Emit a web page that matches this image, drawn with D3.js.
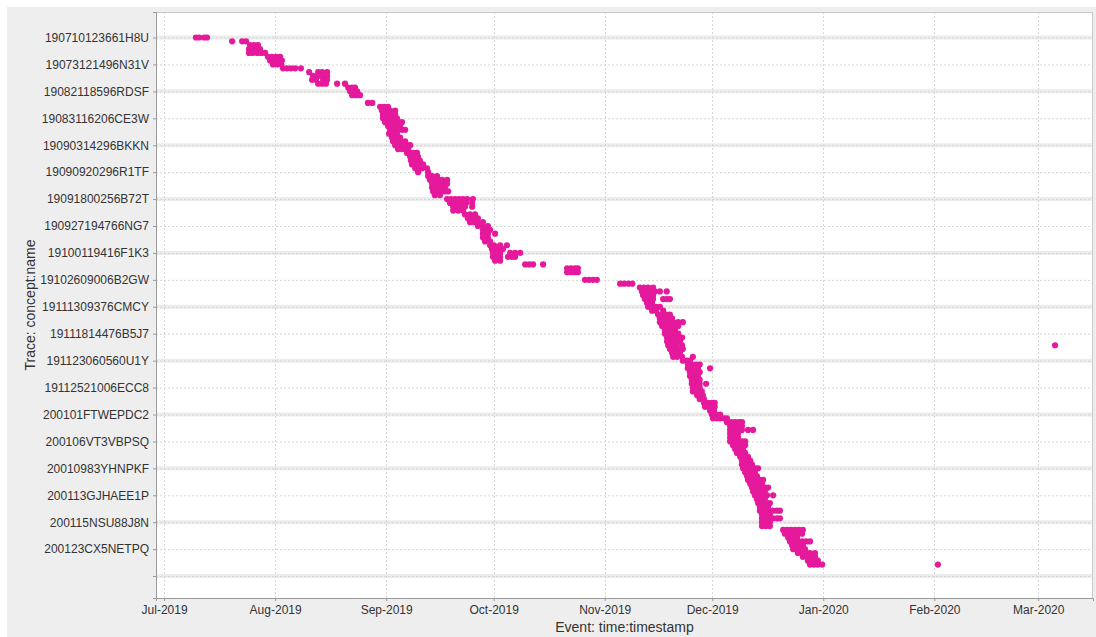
<!DOCTYPE html>
<html>
<head>
<meta charset="utf-8">
<script src="https://cdn.jsdelivr.net/npm/d3@7/dist/d3.min.js"></script>
<style>
  html, body { margin: 0; padding: 0; background: #ffffff; }
  svg { display: block; }
  text { font-family: "Liberation Sans", Arial, sans-serif; fill: #333333; }
</style>
</head>
<body>
<svg id="chart" width="1096" height="637"></svg>
<script>
// ---- data ----
// labelled traces (every 7th trace is labelled on the axis)
const traceLabels = [
  "190710123661H8U", "19073121496N31V", "19082118596RDSF", "19083116206CE3W",
  "19090314296BKKN", "19090920296R1TF", "19091800256B72T", "190927194766NG7",
  "19100119416F1K3", "19102609006B2GW", "19111309376CMCY", "19111814476B5J7",
  "191123060560U1Y", "19112521006ECC8", "200101FTWEPDC2", "200106VT3VBPSQ",
  "20010983YHNPKF", "200113GJHAEE1P", "200115NSU88J8N", "200123CX5NETPQ"
];
const traceStep = 7;
const tickCount = 21;             // 20 labelled + 1 empty tick at the bottom
const baseDate = "2019-07-01";    // event days are offsets from this date
const xStart = "2019-06-28T18:00:00Z";
const xEnd = "2020-03-16T07:00:00Z";
const yDomain = [-6.63, 145.7];
const xTitle = "Event: time:timestamp";
const yTitle = "Trace: concept:name";

// [trace index, event day offsets...]
const traceEvents = [
  [0, 8.9, 9.8, 11.2, 12.0],
  [1, 19.0, 21.8, 22.9],
  [2, 24.0, 25.1, 26.2],
  [3, 23.7, 24.6, 25.7, 26.8],
  [4, 23.7, 24.8, 26.0, 27.1, 28.2],
  [5, 29.0, 30.1, 31.3, 32.4],
  [6, 29.6, 30.7, 31.8, 32.9],
  [7, 30.4, 31.5, 32.7],
  [8, 33.2, 34.3, 35.4, 36.6, 38.2],
  [9, 40.5, 43.0, 44.1, 45.5],
  [10, 41.6, 43.0, 44.1, 45.5],
  [11, 41.3, 42.4, 44.4, 45.5],
  [12, 43.0, 44.1, 45.2, 48.3, 50.5],
  [13, 51.4, 52.5, 53.3],
  [14, 51.9, 53.0, 53.9],
  [15, 52.5, 53.6, 54.7],
  [17, 56.9, 58.1],
  [18, 60.3, 61.4, 62.5],
  [19, 60.8, 62.0, 63.1, 64.5],
  [20, 61.1, 62.2, 63.4, 64.5],
  [21, 61.1, 62.5, 63.6, 65.0],
  [22, 61.7, 62.8, 64.2, 65.3, 66.4],
  [23, 62.5, 63.6, 64.8, 65.9],
  [24, 63.1, 64.2, 65.3, 66.4, 67.3],
  [25, 62.8, 63.9, 65.0],
  [26, 63.6, 64.8, 65.9],
  [27, 63.9, 65.0, 66.1, 67.3],
  [28, 64.5, 65.6, 66.7, 67.8, 68.7],
  [29, 65.3, 66.4, 67.3, 68.1],
  [30, 67.8, 68.9, 69.8, 70.6],
  [31, 68.7, 69.8, 70.9],
  [32, 68.9, 70.1, 71.4],
  [33, 69.2, 70.1, 70.9, 72.3],
  [34, 70.1, 70.9, 72.0, 73.4],
  [35, 70.9, 73.7],
  [36, 73.7, 74.8, 76.2],
  [37, 74.2, 75.3, 76.5, 77.6, 79.0],
  [38, 74.8, 75.9, 77.0, 78.1, 79.0],
  [39, 74.8, 75.9, 77.0, 78.4],
  [40, 75.1, 76.2, 77.3, 78.4, 79.3],
  [41, 75.6, 77.0],
  [42, 79.0, 80.1, 81.2, 82.3, 83.4, 84.6, 86.2],
  [43, 79.8, 80.9, 82.1, 83.2, 84.3, 86.0],
  [44, 80.7, 81.8, 82.9, 84.0, 86.0],
  [45, 80.7, 82.1, 83.4],
  [46, 84.0, 85.4, 86.8],
  [47, 84.8, 86.2, 87.6],
  [48, 85.4, 86.5, 87.6, 89.0],
  [49, 87.6, 89.0, 90.4],
  [50, 89.0, 90.1, 91.0],
  [51, 89.0, 90.4, 92.4],
  [52, 89.0, 90.4],
  [53, 89.6, 91.0],
  [54, 91.0, 92.1, 93.8, 95.7],
  [55, 91.5, 92.7, 93.8, 94.6],
  [56, 91.8, 92.9, 93.8, 96.6, 98.0, 99.4],
  [57, 91.8, 92.9, 93.8, 96.0, 97.1, 98.0],
  [58, 92.4, 93.8],
  [59, 100.8, 101.9, 103.0, 105.8],
  [60, 112.5, 113.6, 114.7, 115.5],
  [61, 112.5, 113.6, 114.7, 115.5],
  [63, 117.5, 118.6, 119.7, 120.8],
  [64, 127.3, 128.4, 129.6, 130.7],
  [65, 132.8, 133.9, 135.1, 136.5],
  [66, 133.4, 134.5, 135.6, 137.0, 138.4, 140.3],
  [67, 133.7, 135.1, 136.5],
  [68, 134.2, 135.4, 136.5, 139.3, 140.3, 141.2],
  [69, 134.8, 136.2],
  [70, 135.1, 136.2, 137.3, 138.4],
  [71, 136.2, 137.3, 139.3],
  [72, 137.9, 139.0, 140.1, 141.2],
  [73, 138.4, 139.5, 140.7, 141.8],
  [74, 138.4, 139.5, 140.7, 142.1, 143.5, 144.8],
  [75, 139.0, 140.1, 141.2, 142.3, 143.5],
  [76, 139.8, 141.2, 142.6],
  [77, 139.8, 140.9, 142.1, 143.5],
  [78, 140.4, 141.5, 142.6, 143.7, 144.6],
  [79, 140.4, 141.5, 142.9, 144.0],
  [80, 140.7, 141.8, 142.9, 144.6, 248.7],
  [81, 141.2, 142.3, 143.5, 144.8],
  [82, 141.8, 142.9, 144.0],
  [83, 142.1, 143.2, 144.6, 147.6],
  [84, 144.8, 146.0, 146.8],
  [85, 146.2, 147.3, 148.4, 149.5],
  [86, 146.2, 147.3, 149.0, 152.4],
  [87, 146.8, 148.2, 149.5],
  [88, 146.8, 147.9, 149.0],
  [89, 147.3, 148.4, 149.5],
  [90, 147.3, 148.4, 149.5, 151.3],
  [91, 147.6, 148.8, 149.5],
  [92, 147.6, 148.8, 150.1],
  [93, 148.8, 149.5, 150.4],
  [94, 149.5, 150.7],
  [95, 150.7, 151.8, 152.9, 153.7],
  [96, 151.0, 152.1, 153.7],
  [97, 152.4, 153.5],
  [98, 152.9, 154.1, 155.2],
  [99, 153.2, 154.3, 155.2, 156.3, 157.1],
  [100, 157.1, 158.3, 159.4, 160.5, 161.3],
  [101, 158.0, 159.1, 160.2, 161.3],
  [102, 158.0, 159.1, 160.2, 161.3, 163.0, 164.4],
  [103, 158.0, 159.1, 160.2],
  [104, 158.0, 159.1, 160.2],
  [105, 158.0, 159.1, 160.2, 161.3, 162.2],
  [106, 158.8, 159.9, 161.0, 162.2],
  [107, 159.4, 160.5, 161.6],
  [108, 159.9, 161.0, 162.2],
  [109, 160.8, 161.9, 163.0],
  [110, 161.3, 162.5, 163.6],
  [111, 161.3, 162.7, 164.1],
  [112, 161.6, 162.7, 163.8, 164.9, 165.8],
  [113, 162.2, 163.6, 164.9],
  [114, 162.7, 164.1, 165.5],
  [115, 163.0, 164.1, 165.2, 166.3, 167.2],
  [116, 163.6, 164.7, 165.8, 166.9],
  [117, 164.1, 165.2, 166.3, 167.7, 168.6],
  [118, 164.4, 165.5, 166.6, 167.7],
  [119, 164.9, 166.1, 167.2, 168.3, 170.0],
  [120, 165.5, 166.6, 167.7],
  [121, 165.8, 166.9, 168.0, 169.1],
  [122, 166.3, 167.5, 168.6],
  [123, 166.3, 167.5, 168.6, 170.0, 171.1, 171.9],
  [124, 166.9, 168.0, 169.1],
  [125, 166.9, 168.0, 169.1, 170.0, 171.1, 171.9],
  [126, 166.9, 168.0, 169.1],
  [127, 166.9, 168.0, 169.1],
  [128, 172.8, 173.9, 175.0, 176.1, 177.2, 178.3],
  [129, 173.3, 174.4, 175.6, 176.7, 178.1],
  [130, 174.2, 175.3, 176.7],
  [131, 174.7, 175.8, 176.9, 178.1, 179.2, 180.3],
  [132, 175.3, 176.4, 177.5, 178.3],
  [133, 175.6, 176.7, 177.8, 178.9],
  [134, 176.9, 178.1, 179.2, 180.3, 181.7],
  [135, 178.3, 179.5, 180.6, 181.7],
  [136, 179.7, 180.9, 182.0, 182.5],
  [137, 180.3, 181.4, 182.5, 183.7, 216.0]
];

// ---- chart ----
const W = 1096, H = 637;
const plot = { left: 156, top: 12, right: 1093, bottom: 598 };
const dotColor = "#e5199b";

const svg = d3.select("#chart");

svg.append("rect").attr("x", 7).attr("y", 7).attr("width", W - 7).attr("height", H - 7)
  .attr("fill", "#eeeeee");
svg.append("rect").attr("x", plot.left).attr("y", plot.top)
  .attr("width", plot.right - plot.left).attr("height", plot.bottom - plot.top)
  .attr("fill", "#ffffff");

const base = new Date(baseDate + "T00:00:00Z").getTime();
const x = d3.scaleUtc()
  .domain([new Date(xStart), new Date(xEnd)])
  .range([plot.left, plot.right]);
const y = d3.scaleLinear().domain(yDomain).range([plot.top, plot.bottom]);

const yTicks = d3.range(tickCount).map(i => i * traceStep);
const xTicks = x.ticks(d3.utcMonth.every(1));

// grid
const grid = svg.append("g");
grid.selectAll(".band").data(yTicks.filter((d, i) => i % 2 === 0)).join("line")
  .attr("x1", plot.left).attr("x2", plot.right)
  .attr("y1", d => y(d)).attr("y2", d => y(d))
  .attr("stroke", "#ececec").attr("stroke-width", 4);
grid.selectAll(".hl").data(yTicks).join("line")
  .attr("x1", plot.left).attr("x2", plot.right)
  .attr("y1", d => y(d) + 0.5).attr("y2", d => y(d) + 0.5)
  .attr("stroke", "#d6d6d6").attr("stroke-width", 1).attr("stroke-dasharray", "2,2");
grid.selectAll(".vl").data(xTicks).join("line")
  .attr("x1", d => Math.round(x(d)) + 0.5).attr("x2", d => Math.round(x(d)) + 0.5)
  .attr("y1", plot.top).attr("y2", plot.bottom)
  .attr("stroke", "#d6d6d6").attr("stroke-width", 1).attr("stroke-dasharray", "2,2");

// dots
const points = [];
traceEvents.forEach(row => {
  const t = row[0];
  row.slice(1).forEach(d => points.push({ trace: t, date: new Date(base + d * 86400000) }));
});
svg.append("g").selectAll("circle").data(points).join("circle")
  .attr("cx", d => x(d.date)).attr("cy", d => y(d.trace))
  .attr("r", 3.1).attr("fill", dotColor);

// outline top/right
svg.append("path")
  .attr("d", `M${plot.left},${plot.top + 0.5}H${plot.right - 0.5}V${plot.bottom}`)
  .attr("fill", "none").attr("stroke", "#c8c8c8");

// axes
const xAxis = d3.axisBottom(x).tickValues(xTicks).tickFormat(d3.utcFormat("%b-%Y"))
  .tickSize(3).tickPadding(4);
const gx = svg.append("g").attr("transform", `translate(0,${plot.bottom})`).call(xAxis);
const yAxis = d3.axisLeft(y).tickValues(yTicks)
  .tickFormat((d, i) => traceLabels[i] || "").tickSize(3).tickPadding(4);
const gy = svg.append("g").attr("transform", `translate(${plot.left},0)`).call(yAxis);

[gx, gy].forEach(g => {
  g.select(".domain").attr("stroke", "#9a9a9a");
  g.selectAll(".tick line").attr("stroke", "#9a9a9a");
  g.selectAll(".tick text").attr("fill", "#333333")
    .style("font-size", "12px").style("font-family", "'Liberation Sans', Arial, sans-serif");
});

// titles
svg.append("text").attr("x", (plot.left + plot.right) / 2).attr("y", 632)
  .attr("text-anchor", "middle").style("font-size", "14px").text(xTitle);
svg.append("text")
  .attr("transform", `translate(35,${(plot.top + plot.bottom) / 2}) rotate(-90)`)
  .attr("text-anchor", "middle").style("font-size", "14px").text(yTitle);
</script>
</body>
</html>
